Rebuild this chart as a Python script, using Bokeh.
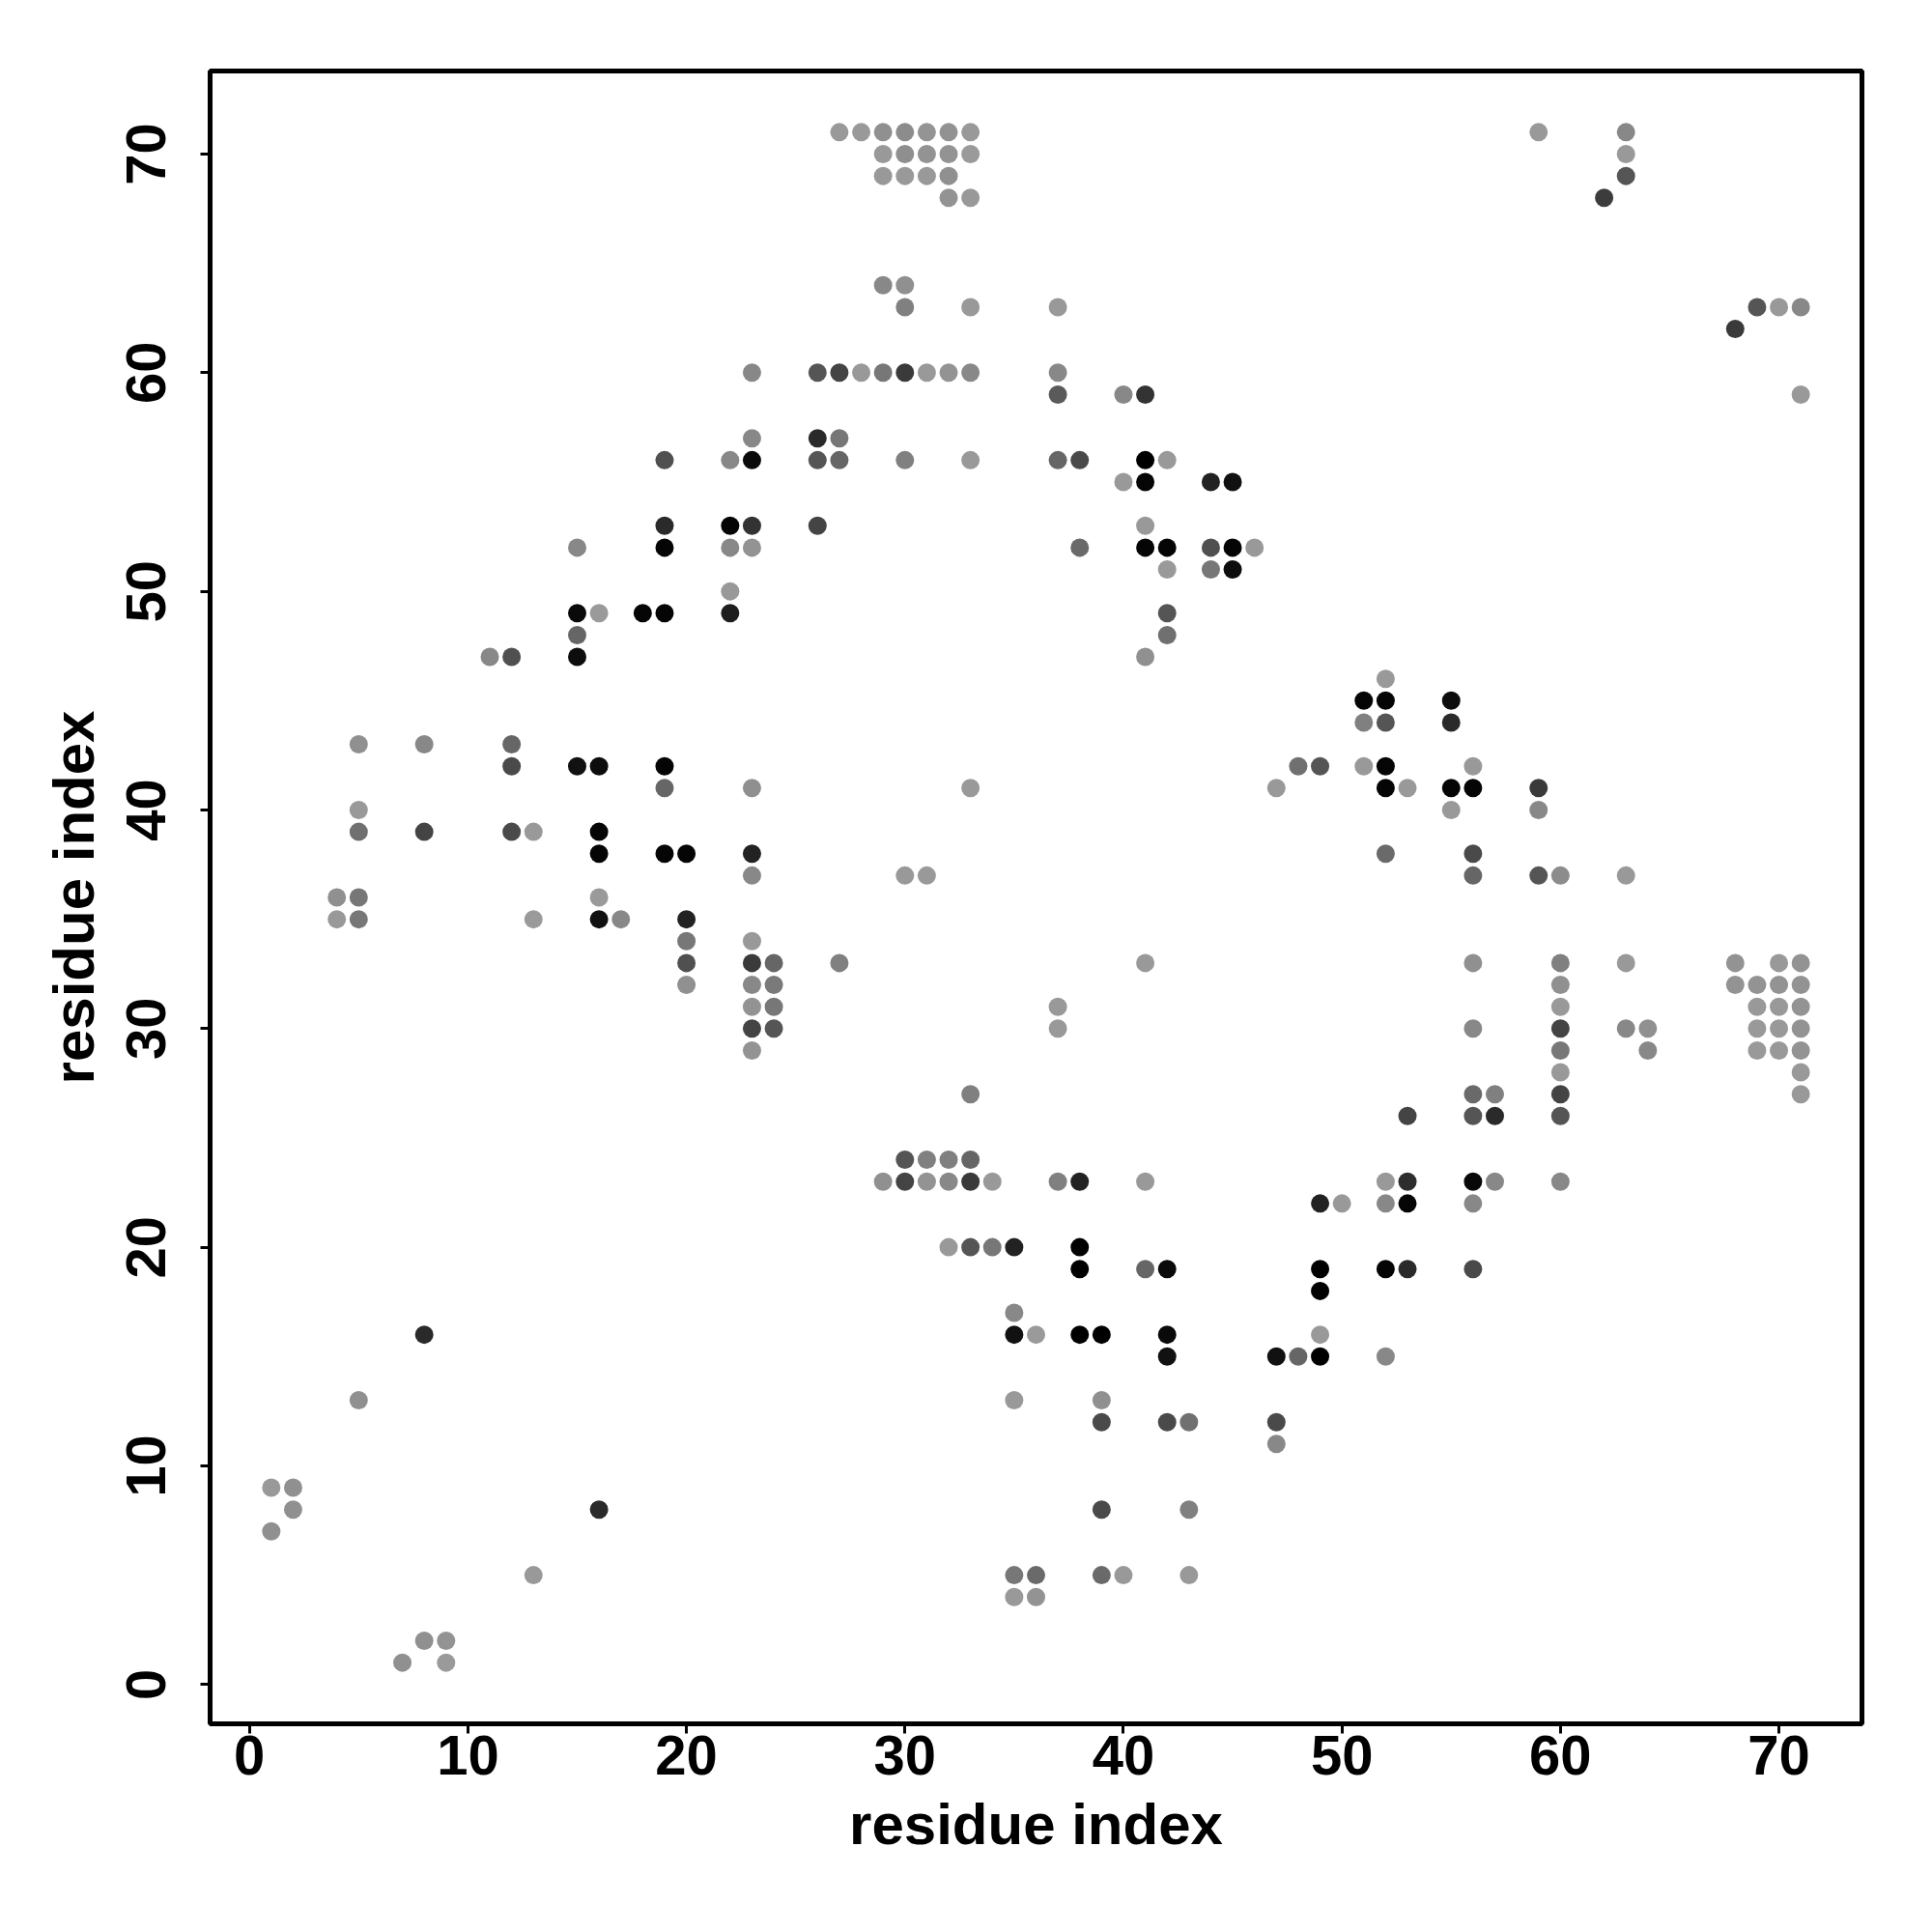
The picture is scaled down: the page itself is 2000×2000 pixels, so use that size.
from bokeh.plotting import figure
from bokeh.models import Range1d, FixedTicker
from bokeh.embed import file_html
from bokeh.resources import INLINE

# contact map: residue i (x), residue j (y), grey level of the dot (0 = black, 255 = white)
res_x = [27, 28, 29, 30, 31, 32, 33,
         29, 30, 31, 32, 33,
         29, 30, 31, 32,
         32, 33,
         59, 63, 63, 63, 62,
         29, 30,
         30, 33, 37,
         69, 70, 71,
         68,
         23, 26, 27, 28, 29, 30, 31, 32, 33, 37,
         37, 40, 41, 71,
         23, 26, 27,
         19, 22, 23, 26, 27, 30, 33, 37, 38, 41, 42,
         40, 41, 44, 45,
         19, 22, 23, 26, 41,
         15, 19, 22, 23, 38, 41, 42, 44, 45, 46,
         42, 44, 45,
         22,
         15, 16, 18, 19, 22, 42,
         15, 42,
         11, 12, 15, 41,
         52,
         51, 52, 55,
         51, 52, 55,
         5, 8, 12,
         12, 15, 16, 19, 48, 49, 51, 52, 56,
         19, 23, 33, 47, 52, 53, 55, 56, 59,
         5, 55, 59,
         5, 8, 12, 13, 16,
         16, 19, 20, 23, 52, 56,
         23, 30, 31, 56, 59, 60, 63,
         4, 5, 16,
         4, 5, 13, 16, 17, 20,
         20, 23,
         20, 23, 24, 27, 41, 56, 60, 63, 68, 70, 71,
         20, 23, 24, 60, 68, 69, 70, 71,
         23, 24, 37, 60, 69, 70, 71,
         23, 24, 37, 56, 60, 63, 64, 69, 70, 71,
         23, 60, 64, 69, 70, 71,
         60, 71,
         33, 56, 57, 60, 71,
         53, 56, 57, 60,
         30, 31, 32, 33,
         29, 30, 31, 32, 33, 34, 37, 38, 41, 52, 53, 56, 57, 60,
         49, 50, 52, 53, 56,
         32, 33, 34, 35, 38,
         38, 41, 42, 49, 52, 53, 56,
         49,
         35,
         8, 35, 36, 38, 39, 42, 49,
         42, 47, 48, 49, 52,
         5, 35, 39,
         39, 42, 43, 47,
         47,
         1, 2,
         2, 16, 39, 43,
         1,
         13, 35, 36, 39, 40, 43,
         35, 36,
         8, 9,
         7, 9]

res_y = [71, 71, 71, 71, 71, 71, 71,
         70, 70, 70, 70, 70,
         69, 69, 69, 69,
         68, 68,
         71, 71, 70, 69, 68,
         64, 64,
         63, 63, 63,
         63, 63, 63,
         62,
         60, 60, 60, 60, 60, 60, 60, 60, 60, 60,
         59, 59, 59, 59,
         57, 57, 57,
         56, 56, 56, 56, 56, 56, 56, 56, 56, 56, 56,
         55, 55, 55, 55,
         53, 53, 53, 53, 53,
         52, 52, 52, 52, 52, 52, 52, 52, 52, 52,
         51, 51, 51,
         50,
         49, 49, 49, 49, 49, 49,
         48, 48,
         47, 47, 47, 47,
         46,
         45, 45, 45,
         44, 44, 44,
         43, 43, 43,
         42, 42, 42, 42, 42, 42, 42, 42, 42,
         41, 41, 41, 41, 41, 41, 41, 41, 41,
         40, 40, 40,
         39, 39, 39, 39, 39,
         38, 38, 38, 38, 38, 38,
         37, 37, 37, 37, 37, 37, 37,
         36, 36, 36,
         35, 35, 35, 35, 35, 35,
         34, 34,
         33, 33, 33, 33, 33, 33, 33, 33, 33, 33, 33,
         32, 32, 32, 32, 32, 32, 32, 32,
         31, 31, 31, 31, 31, 31, 31,
         30, 30, 30, 30, 30, 30, 30, 30, 30, 30,
         29, 29, 29, 29, 29, 29,
         28, 28,
         27, 27, 27, 27, 27,
         26, 26, 26, 26,
         24, 24, 24, 24,
         23, 23, 23, 23, 23, 23, 23, 23, 23, 23, 23, 23, 23, 23,
         22, 22, 22, 22, 22,
         20, 20, 20, 20, 20,
         19, 19, 19, 19, 19, 19, 19,
         18,
         17,
         16, 16, 16, 16, 16, 16, 16,
         15, 15, 15, 15, 15,
         13, 13, 13,
         12, 12, 12, 12,
         11,
         9, 9,
         8, 8, 8, 8,
         7,
         5, 5, 5, 5, 5, 5,
         4, 4,
         2, 2,
         1, 1]

grey = [153, 153, 144, 140, 148, 146, 153,
        153, 143, 147, 147, 154,
        153, 153, 153, 144,
        147, 153,
        153, 136, 153, 85, 60,
        136, 144,
        128, 153, 153,
        85, 153, 136,
        58,
        136, 85, 68, 153, 119, 58, 153, 147, 136, 136,
        90, 136, 51, 153,
        136, 42, 119,
        80, 136, 10, 85, 102, 128, 153, 102, 74, 0, 153,
        153, 5, 34, 17,
        42, 5, 51, 68, 153,
        136, 5, 136, 147, 106, 5, 5, 80, 5, 153,
        153, 119, 13,
        153,
        10, 154, 5, 5, 30, 85,
        102, 112,
        136, 80, 13, 144,
        153,
        5, 5, 13,
        128, 85, 42,
        144, 136, 102,
        74, 17, 13, 5, 112, 85, 153, 5, 153,
        102, 143, 153, 153, 5, 153, 5, 5, 58,
        153, 153, 136,
        112, 68, 74, 153, 5,
        5, 5, 5, 34, 106, 74,
        136, 153, 153, 102, 85, 140, 153,
        144, 119, 154,
        153, 119, 154, 17, 136, 34,
        119, 153,
        80, 58, 102, 128, 153, 144, 128, 153, 147, 153, 147,
        144, 136, 122, 144, 147, 147, 147, 147,
        147, 119, 153, 153, 153, 153, 147,
        68, 85, 153, 136, 68, 136, 144, 153, 153, 147,
        147, 119, 136, 153, 153, 147,
        153, 153,
        128, 106, 128, 68, 153,
        68, 85, 42, 85,
        85, 128, 128, 102,
        144, 68, 147, 136, 58, 153, 128, 34, 153, 153, 45, 8, 136, 136,
        34, 153, 136, 5, 136,
        153, 85, 119, 34, 0,
        0, 102, 10, 0, 5, 42, 74,
        0,
        136,
        42, 17, 154, 0, 0, 10, 153,
        17, 17, 102, 0, 136,
        144, 153, 144,
        74, 74, 112, 74,
        136,
        153, 144,
        144, 42, 74, 128,
        144,
        153, 119, 106, 106, 153, 153,
        153, 147,
        144, 147,
        144, 154]

ticks = [0, 10, 20, 30, 40, 50, 60, 70]
axis_title = "residue index"

colors = ["#%02x%02x%02x" % (g, g, g) for g in grey]

p = figure(frame_width=1710, frame_height=1711,
           x_range=Range1d(-1.8, 73.8), y_range=Range1d(-1.8, 73.8),
           output_backend="svg", toolbar_location=None,
           min_border_left=217, min_border_right=60,
           min_border_top=73, min_border_bottom=200)

p.scatter(x=res_x, y=res_y, marker="circle", size=19,
          fill_color=colors, line_color=None)

p.grid.visible = False
p.outline_line_color = "black"
p.outline_line_width = 5
p.outline_line_alpha = 1.0

for ax in (p.xaxis[0], p.yaxis[0]):
    ax.ticker = FixedTicker(ticks=ticks)
    ax.minor_tick_line_color = None
    ax.axis_line_color = None
    ax.major_tick_in = 0
    ax.major_tick_out = 10
    ax.major_tick_line_width = 3
    ax.major_tick_line_color = "black"
    ax.major_label_text_font = "Liberation Sans"
    ax.major_label_text_font_style = "bold"
    ax.major_label_text_font_size = "58px"
    ax.major_label_text_color = "black"
    ax.axis_label = axis_title
    ax.axis_label_text_font = "Liberation Sans"
    ax.axis_label_text_font_style = "bold"
    ax.axis_label_text_font_size = "60px"
    ax.axis_label_text_color = "black"

p.xaxis.major_label_standoff = 2
p.xaxis.axis_label_standoff = 15
p.yaxis.major_label_orientation = "parallel"
p.yaxis.major_label_standoff = 36
p.yaxis.axis_label_standoff = 19

open("out.html", "w").write(file_html(p, INLINE))
